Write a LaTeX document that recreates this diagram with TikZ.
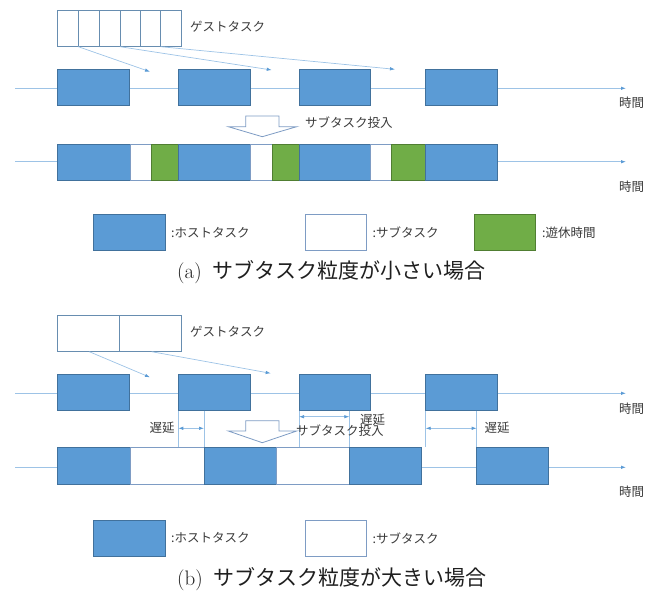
\documentclass[tikz,border=0pt]{standalone}
\usepackage{fontspec}
\newfontfamily\jp{Noto Sans CJK JP}
\usetikzlibrary{arrows.meta}
\definecolor{hostfill}{HTML}{5B9BD5}
\definecolor{hostdraw}{HTML}{41719C}
\definecolor{idlefill}{HTML}{70AD47}
\definecolor{idledraw}{HTML}{507E32}
\definecolor{subdraw}{HTML}{7E9CC4}
\definecolor{tline}{HTML}{9DC3E6}
\definecolor{tipcol}{HTML}{5B9BD5}
\definecolor{txt}{HTML}{3A3A3A}
\tikzset{
  base/.style={inner sep=0pt, outer sep=0pt, anchor=north west, line width=0.8pt},
  host/.style={base, fill=hostfill, draw=hostdraw},
  sub/.style={base, fill=white, draw=subdraw},
  idle/.style={base, fill=idlefill, draw=idledraw},
  guest/.style={base, fill=white, draw=hostdraw!80!white},
  axis/.style={draw=tline, line width=0.8pt, -{Latex[length=5pt,width=3.5pt,color=tipcol]}},
  flow/.style={draw=tline, line width=0.7pt, -{Latex[length=5pt,width=3.5pt,color=tipcol]}},
  delay/.style={draw=tline, line width=0.7pt, {Latex[length=5pt,width=3.5pt,color=tipcol]}-{Latex[length=5pt,width=3.5pt,color=tipcol]}},
  guide/.style={draw=tline, line width=0.7pt},
  hollow/.style={draw=subdraw, fill=white, line width=0.8pt, line join=miter},
  lbl/.style={inner sep=0pt, text=txt, font=\jp\fontsize{12.5}{14}\selectfont},
  captext/.style={inner sep=0pt, text=black!88, font=\fontsize{21}{24}\selectfont}
}
\newcommand\bx[6]{\node[#2, minimum width={(#5-#3)*1pt}, minimum height={(#6-#4)*1pt}] (#1) at (#3,#4) {};}
\begin{document}
\begin{tikzpicture}[x=1pt,y=-1pt]
\useasboundingbox (0,0) rectangle (656,592);
% ================= (a) =================
\coordinate (ta1s) at (15,88.3); \coordinate (ta1e) at (626,88.3);
\coordinate (ta2s) at (15,161.7); \coordinate (ta2e) at (626,161.7);
\draw[axis] (ta1s) -- (ta1e);
\draw[axis] (ta2s) -- (ta2e);
\bx{ga1}{guest}{57.7}{10}{78.3}{46.7}
\bx{ga2}{guest}{78.3}{10}{99.3}{46.7}
\bx{ga3}{guest}{99.3}{10}{120}{46.7}
\bx{ga4}{guest}{120}{10}{140.7}{46.7}
\bx{ga5}{guest}{140.7}{10}{160.7}{46.7}
\bx{ga6}{guest}{160.7}{10}{181}{46.7}
\node[lbl, anchor=west] (gla) at (190,27) {ゲストタスク};
\bx{ha1}{host}{57.7}{69}{129.3}{105}
\bx{ha2}{host}{178.3}{69}{250}{105}
\bx{ha3}{host}{299}{69}{370.7}{105}
\bx{ha4}{host}{425.7}{69}{497.7}{105}
\coordinate (fa1) at (150,71.7);
\coordinate (fa2) at (271.7,70);
\coordinate (fa3) at (395,69.3);
\draw[flow] (ga1.south east) -- (fa1);
\draw[flow] (ga3.south east) -- (fa2);
\draw[flow] (ga5.south east) -- (fa3);
\node[lbl] (ja1) at (631.5,103) {時間};
\draw[hollow] (245.7,116) -- (279,116) -- (279,126.7) -- (296.7,126.7) -- (262.3,136.7) -- (228.3,126.7) -- (245.7,126.7) -- cycle;
\node[lbl, anchor=west] (insa) at (305,123) {サブタスク投入};
\bx{hb1}{host}{57.7}{144}{130}{180}
\bx{sb1}{sub}{130}{144}{151}{180}
\bx{gb1}{idle}{151}{144}{178.3}{180}
\bx{hb2}{host}{178.3}{144}{250}{180}
\bx{sb2}{sub}{250}{144}{272.3}{180}
\bx{gb2}{idle}{272.3}{144}{299}{180}
\bx{hb3}{host}{299}{144}{370.7}{180}
\bx{sb3}{sub}{370.7}{144}{391.7}{180}
\bx{gb3}{idle}{391.7}{144}{425.7}{180}
\bx{hb4}{host}{425.7}{144}{497.7}{180}
\node[lbl] (ja2) at (631.5,186.7) {時間};
\bx{lha}{host}{93}{214}{165}{250.7}
\node[lbl, anchor=west] (lhat) at (171,232.5) {:ホストタスク};
\bx{lsa}{sub}{305}{214}{366}{250.7}
\node[lbl, anchor=west] (lsat) at (372.5,232.5) {:サブタスク};
\bx{lga}{idle}{474}{214}{535}{250.7}
\node[lbl, anchor=west] (lgat) at (542,232.5) {:遊休時間};
\node[captext, anchor=west] (capa) at (177,272.5) {(a)\hspace{11pt}{\jp\fontsize{21}{24}\selectfont サブタスク粒度が小さい場合}};
% ================= (b) =================
\coordinate (tb1s) at (15,393.3); \coordinate (tb1e) at (626,393.3);
\coordinate (tb2s) at (15,467.3); \coordinate (tb2e) at (626,467.3);
\draw[axis] (tb1s) -- (tb1e);
\draw[axis] (tb2s) -- (tb2e);
\bx{gc1}{guest}{57.7}{315}{119.3}{351.7}
\bx{gc2}{guest}{119.3}{315}{181}{351.7}
\node[lbl, anchor=west] (glb) at (190,331.7) {ゲストタスク};
\bx{hc1}{host}{57.7}{374}{129.3}{410.7}
\bx{hc2}{host}{178.3}{374}{250}{410.7}
\bx{hc3}{host}{299}{374}{370.7}{410.7}
\bx{hc4}{host}{425.7}{374}{497.7}{410.7}
\coordinate (gs1) at (89.3,351.7);
\coordinate (gs2) at (151.7,351.7);
\coordinate (fb1) at (150,377.3);
\coordinate (fb2) at (270.7,373.3);
\draw[flow] (gs1) -- (fb1);
\draw[flow] (gs2) -- (fb2);
\node[lbl] (jb1) at (631.5,408.3) {時間};
\bx{hd1}{host}{57.7}{447.3}{130}{484}
\bx{sd1}{sub}{130}{447.3}{204}{484}
\bx{hd2}{host}{204}{447.3}{276.7}{484}
\bx{sd2}{sub}{276.7}{447.3}{349.3}{484}
\bx{hd3}{host}{349.3}{447.3}{421.7}{484}
\bx{hd4}{host}{476.7}{447.3}{548.7}{484}
\node[lbl] (jb2) at (631.5,491.7) {時間};
\coordinate (d1a) at (178.3,447.3);
\coordinate (d1b) at (204,410.7);
\coordinate (a1l) at (178.3,428.3); \coordinate (a1r) at (204,428.3);
\draw[guide] (hc2.south west) -- (d1a);
\draw[guide] (d1b) -- (hd2.north west);
\draw[delay] (a1l) -- (a1r);
\node[lbl] (dl1) at (162,428) {遅延};
\coordinate (d2a) at (299,447.3);
\coordinate (d2b) at (349.3,410.7);
\coordinate (a2l) at (299,416.7); \coordinate (a2r) at (349.3,416.7);
\draw[guide] (hc3.south west) -- (d2a);
\draw[guide] (d2b) -- (hd3.north west);
\draw[delay] (a2l) -- (a2r);
\node[lbl] (dl2) at (372.5,419.5) {遅延};
\coordinate (d3a) at (425.7,447.3);
\coordinate (d3b) at (476.7,410.7);
\coordinate (a3l) at (425.7,428.3); \coordinate (a3r) at (476.7,428.3);
\draw[guide] (hc4.south west) -- (d3a);
\draw[guide] (d3b) -- (hd4.north west);
\draw[delay] (a3l) -- (a3r);
\node[lbl] (dl3) at (497,428) {遅延};
\draw[hollow] (245.7,420.7) -- (279,420.7) -- (279,431) -- (296.7,431) -- (262.3,442.7) -- (228.3,431) -- (245.7,431) -- cycle;
\node[lbl, anchor=west] (insb) at (296,431) {サブタスク投入};
\bx{lhb}{host}{93}{520}{165}{556.7}
\node[lbl, anchor=west] (lhbt) at (171,538) {:ホストタスク};
\bx{lsb}{sub}{305}{520}{366}{556.7}
\node[lbl, anchor=west] (lsbt) at (372.5,538) {:サブタスク};
\node[captext, anchor=west] (capb) at (177,579) {(b)\hspace{11pt}{\jp\fontsize{21}{24}\selectfont サブタスク粒度が大きい場合}};
\end{tikzpicture}
\end{document}
